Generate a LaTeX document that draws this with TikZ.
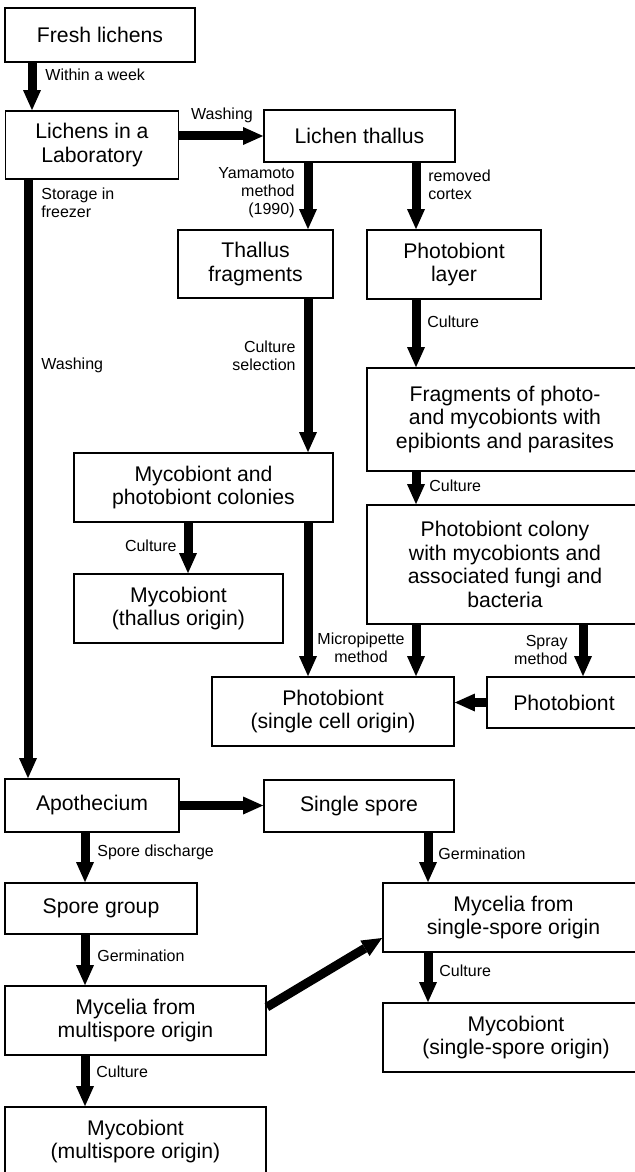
\documentclass[tikz,border=0pt]{standalone}
\usepackage{fontspec}
\setmainfont{Liberation Sans}
\usetikzlibrary{arrows.meta}

\begin{document}
\begin{tikzpicture}[x=0.5pt, y=-0.5pt,
	>={Triangle[width=9pt, length=10pt, line width=0pt]},
	box/.style={draw, line width=0.9pt, align=center, inner sep=0pt,
		font=\fontsize{10.6}{11.85}\selectfont},
	lbl/.style={inner sep=0pt, font=\fontsize{8}{9}\selectfont},
	arr/.style={->, line width=4.5pt}]
	\def\cA{32}		% fresh -> lab
	\def\cB{28}		% lab -> apothecium
	\def\cC{308}		% yamamoto column
	\def\cD{416}		% cortex column
	\def\cE{188}		% thallus origin
	\def\cF{583}		% spray
	\def\cG{85}		% multispore column
	\def\cH{428}		% single-spore column

	\useasboundingbox (0,0) rectangle (635,1172);
	\clip (0,0) rectangle (635,1172);

	% Boxes
	\node[box, minimum width=95pt, minimum height=27pt] (fresh) at (100,35) {Fresh lichens};
	\node[box, minimum width=86.5pt, minimum height=34pt] (lab) at (92,145) {Lichens in a\\Laboratory};
	\node[box, minimum width=95.5pt, minimum height=26pt] (thallus) at (359.5,136) {Lichen thallus};
	\node[box, minimum width=77.5pt, minimum height=34pt] (tfrag) at (255.5,264) {Thallus\\fragments};
	\node[box, minimum width=87pt, minimum height=34.5pt] (player) at (454,264.5) {Photobiont\\layer};
	\node[box, minimum width=138pt, minimum height=51.5pt] (frag) at (505,419.5) {Fragments of photo-\\and mycobionts with\\epibionts and parasites};
	\node[box, minimum width=129.5pt, minimum height=34.5pt] (colonies) at (203.5,487.5) {Mycobiont and\\photobiont colonies};
	\node[box, minimum width=138pt, minimum height=59.5pt] (colony) at (505,564.5) {Photobiont colony\\with mycobionts and\\associated fungi and\\bacteria};
	\node[box, minimum width=104.5pt, minimum height=34.5pt] (mthallus) at (178.5,608.5) {Mycobiont\\(thallus origin)};
	\node[box, minimum width=121pt, minimum height=34.5pt] (psingle) at (333,711.5) {Photobiont\\(single cell origin)};
	\node[box, minimum width=77pt, minimum height=25.5pt] (pright) at (564,702.5) {Photobiont};
	\node[box, minimum width=87pt, minimum height=26.5pt] (apo) at (92,805.5) {Apothecium};
	\node[box, minimum width=95pt, minimum height=26pt] (sspore) at (359,806) {Single spore};
	\node[box, minimum width=96pt, minimum height=25.5pt] (sgroup) at (101,908.5) {Spore group};
	\node[box, minimum width=130.5pt, minimum height=34.5pt] (mmulti) at (135.5,1020.5) {Mycelia from\\multispore origin};
	\node[box, minimum width=130.5pt, minimum height=34.5pt] (cmulti) at (135.5,1141.5) {Mycobiont\\(multispore origin)};
	\node[box, minimum width=130.5pt, minimum height=34.5pt] (msingle) at (513.5,917.5) {Mycelia from\\single-spore origin};
	\node[box, minimum width=133pt, minimum height=34.5pt] (csingle) at (516,1037.5) {Mycobiont\\(single-spore origin)};

	% Labels
	\node[lbl, anchor=west] (lweek) at (45,75) {Within a week};
	\node[lbl] (lwash) at (222,115) {Washing};
	\node[lbl, anchor=west, align=left] (lstore) at (41,203) {Storage in\\freezer};
	\node[lbl, anchor=west] (lwashb) at (41,365) {Washing};
	\node[lbl, anchor=east, align=right] (lyama) at (295,193) {Yamamoto\\method\\(1990)};
	\node[lbl, anchor=west, align=left] (lcortex) at (428,185) {removed\\cortex};
	\node[lbl, anchor=west] (lcultA) at (427,322) {Culture};
	\node[lbl, anchor=west] (lcultB) at (429,486) {Culture};
	\node[lbl, anchor=east, align=right] (lsel) at (296,356) {Culture\\selection};
	\node[lbl, anchor=east] (lcultC) at (177,546) {Culture};
	\node[lbl, align=center] (lmicro) at (361,648) {Micropipette\\method};
	\node[lbl, anchor=east, align=right] (lspray) at (568,650) {Spray\\method};
	\node[lbl, anchor=west] (ldisch) at (97,852) {Spore discharge};
	\node[lbl, anchor=west] (lgermA) at (97,956) {Germination};
	\node[lbl, anchor=west] (lcultD) at (96,1072) {Culture};
	\node[lbl, anchor=west] (lgermB) at (438,854) {Germination};
	\node[lbl, anchor=west] (lcultE) at (439,971) {Culture};

	% Arrows
	\draw[arr] (fresh.south -| \cA,0) -- (lab.north -| \cA,0);
	\draw[arr] (lab.east |- thallus.west) -- (thallus.west);
	\draw[arr] (lab.south -| \cB,0) -- (apo.north -| \cB,0);
	\draw[arr] (thallus.south -| \cC,0) -- (tfrag.north -| \cC,0);
	\draw[arr] (thallus.south -| \cD,0) -- (player.north -| \cD,0);
	\draw[arr] (player.south -| \cD,0) -- (frag.north -| \cD,0);
	\draw[arr] (frag.south -| \cD,0) -- (colony.north -| \cD,0);
	\draw[arr] (tfrag.south -| \cC,0) -- (colonies.north -| \cC,0);
	\draw[arr] (colonies.south -| \cE,0) -- (mthallus.north -| \cE,0);
	\draw[arr] (colonies.south -| \cC,0) -- (psingle.north -| \cC,0);
	\draw[arr] (colony.south -| \cD,0) -- (psingle.north -| \cD,0);
	\draw[arr] (colony.south -| \cF,0) -- (pright.north -| \cF,0);
	\draw[arr] (pright.west) -- (psingle.east |- pright.west);
	\draw[arr] (apo.east) -- (sspore.west |- apo.east);
	\draw[arr] (apo.south -| \cG,0) -- (sgroup.north -| \cG,0);
	\draw[arr] (sgroup.south -| \cG,0) -- (mmulti.north -| \cG,0);
	\draw[arr] (mmulti.south -| \cG,0) -- (cmulti.north -| \cG,0);
	\draw[arr] (sspore.south -| \cH,0) -- (msingle.north -| \cH,0);
	\draw[arr] (msingle.south -| \cH,0) -- (csingle.north -| \cH,0);
	\draw[arr] (mmulti.east |- 0,1007) -- (msingle.west |- 0,938);
\end{tikzpicture}
\end{document}
